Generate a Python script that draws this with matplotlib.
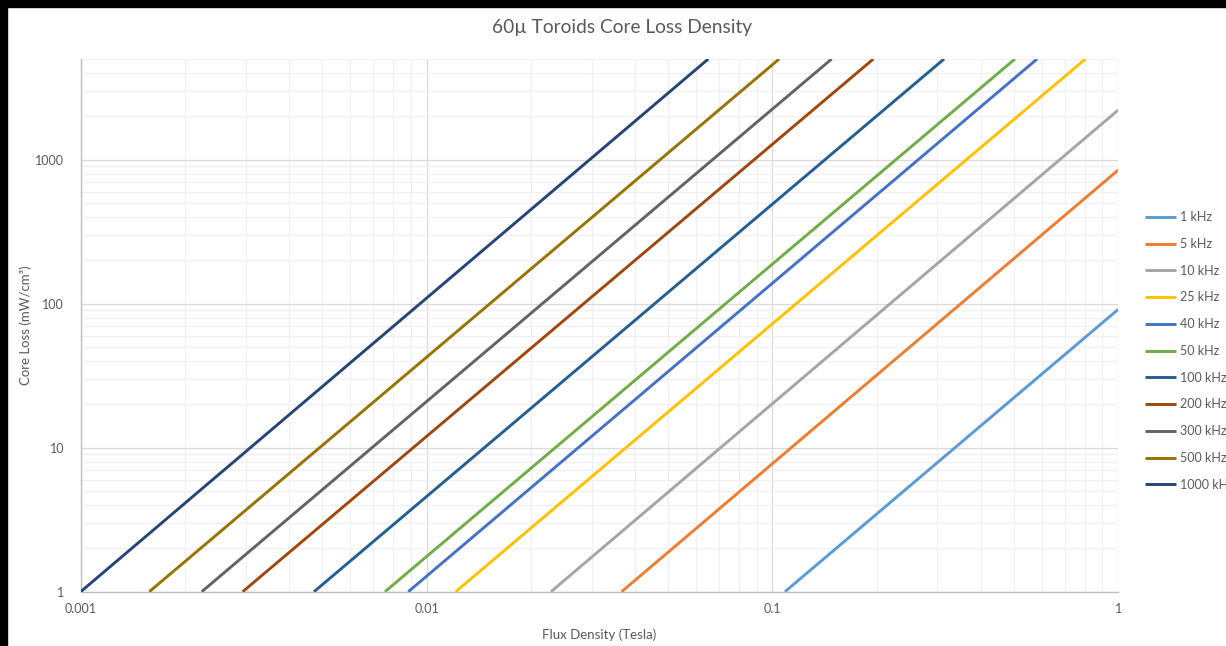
import matplotlib.pyplot as plt
from matplotlib.patches import Rectangle
from matplotlib.ticker import LogLocator, FuncFormatter, NullFormatter

# Core loss curves, 60u toroids: flux density (T) and loss (mW/cm3) at the
# two ends of each straight log-log line
freqs = ['1 kHz', '5 kHz', '10 kHz', '25 kHz', '40 kHz', '50 kHz',
         '100 kHz', '200 kHz', '300 kHz', '500 kHz', '1000 kHz']
b_start = [0.1087, 0.03664, 0.02289, 0.01214, 0.008853, 0.007582,
           0.004727, 0.002940, 0.002238, 0.001579, 0.001]
b_end = [1.0, 1.0, 1.0, 0.8035, 0.5823, 0.5025,
         0.3135, 0.1958, 0.1483, 0.1046, 0.06523]
p_start = [1, 1, 1, 1, 1, 1, 1, 1, 1, 1, 1]
p_end = [91.4, 848, 2214, 5000, 5000, 5000, 5000, 5000, 5000, 5000, 5000]

colors = ['#5B9BD5', '#ED7D31', '#A5A5A5', '#FFC000', '#4472C4', '#70AD47',
          '#255E91', '#9E480E', '#636363', '#997300', '#264478']

plt.rcParams['font.family'] = ['Lato', 'DejaVu Sans']
text_color = '#595959'

fig = plt.figure(figsize=(12.26, 6.46), dpi=100)
ax = fig.add_axes([80.7 / 1226, 1 - 591.7 / 646, (1118.3 - 80.7) / 1226, (591.7 - 59) / 646])

for i in range(len(freqs)):
    ax.plot([b_start[i], b_end[i]], [p_start[i], p_end[i]], color=colors[i],
            linewidth=2.1, label=freqs[i], solid_capstyle='butt', zorder=3)

ax.set_xscale('log')
ax.set_yscale('log')
ax.set_xlim(0.001, 1)
ax.set_ylim(1, 5000)

ax.xaxis.set_major_locator(LogLocator(base=10, numticks=10))
ax.yaxis.set_major_locator(LogLocator(base=10, numticks=10))
ax.xaxis.set_minor_locator(LogLocator(base=10, subs=range(2, 10), numticks=20))
ax.yaxis.set_minor_locator(LogLocator(base=10, subs=range(2, 10), numticks=20))
ax.xaxis.set_major_formatter(FuncFormatter(lambda v, p: '%g' % v))
ax.yaxis.set_major_formatter(FuncFormatter(lambda v, p: '%g' % v))
ax.xaxis.set_minor_formatter(NullFormatter())
ax.yaxis.set_minor_formatter(NullFormatter())

ax.grid(which='major', color='#D9D9D9', linewidth=0.9)
ax.grid(which='minor', color='#F0F0F0', linewidth=0.9)
ax.set_axisbelow(True)

ax.tick_params(which='both', length=0, colors=text_color, labelsize=9)
ax.tick_params(axis='x', pad=8)
ax.tick_params(axis='y', pad=12)
for side in ['top', 'right']:
    ax.spines[side].set_visible(False)
for side in ['left', 'bottom']:
    ax.spines[side].set_color('#BFBFBF')
    ax.spines[side].set_linewidth(1.0)

ax.set_xlabel('Flux Density (Tesla)', color=text_color, fontsize=9.5, labelpad=10)
ax.set_ylabel('Core Loss (mW/cm³)', color=text_color, fontsize=9.5, labelpad=2)

fig.text(622 / 1226, 1 - 28 / 646, '60µ Toroids Core Loss Density', ha='center', va='center',
         color=text_color, fontsize=13.8)

ax.legend(loc='center left', bbox_to_anchor=(1145 / 1226, 1 - 351 / 646),
          bbox_transform=fig.transFigure, frameon=False, fontsize=9,
          labelcolor=text_color, handlelength=2.5, handletextpad=0.3,
          labelspacing=1.18, borderpad=0, borderaxespad=0)

# dark strips along the top and left edges
fig.patches.append(Rectangle((0, 1 - 7 / 646), 1, 7 / 646, transform=fig.transFigure,
                             color='black', zorder=10))
fig.patches.append(Rectangle((0, 0), 7 / 1226, 1, transform=fig.transFigure,
                             color='black', zorder=10))

fig.savefig('out.png', dpi=100)
